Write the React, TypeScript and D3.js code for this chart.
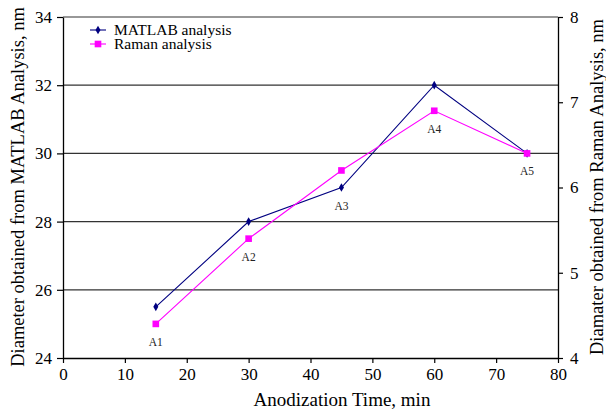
import React, { useRef, useEffect } from "react";
import * as d3 from "d3";

const times = [15, 30, 45, 60, 75];
const matlabValues = [25.5, 28, 29, 32, 30];
const ramanValues = [4.4, 5.4, 6.2, 6.9, 6.4];
const sampleLabels = ["A1", "A2", "A3", "A4", "A5"];
const xTicks = [0, 10, 20, 30, 40, 50, 60, 70, 80];
const leftTicks = [24, 26, 28, 30, 32, 34];
const rightTicks = [4, 5, 6, 7, 8];

const FONT = "\"Times New Roman\", \"Liberation Serif\", \"DejaVu Serif\", serif";

const App = () => {
  const canvas = useRef<SVGSVGElement>(null);

  const margin = { top: 17, right: 48, bottom: 55, left: 63 };
  const width = 606 - margin.left - margin.right;
  const height = 413 - margin.top - margin.bottom;

  useEffect(() => {
    const svg = d3.select(canvas.current);
    svg.selectAll("*").remove();

    const xScale = d3.scaleLinear().domain([0, 80]).range([0, width]);
    const yLeft = d3.scaleLinear().domain([24, 34]).range([height, 0]);
    const yRight = d3.scaleLinear().domain([4, 8]).range([height, 0]);

    const g = svg.append("g").attr("transform", "translate(" + margin.left + "," + margin.top + ")");

    // grid lines
    g.selectAll("line.grid")
      .data(leftTicks.slice(1))
      .enter()
      .append("line")
      .attr("x1", 0)
      .attr("x2", width)
      .attr("y1", d => yLeft(d))
      .attr("y2", d => yLeft(d))
      .style("stroke", "#333")
      .style("stroke-width", 1.2);

    const styleAxis = (sel: any) => {
      sel.attr("font-family", null).attr("font-size", null);
      sel.select(".domain").style("stroke", "#000").style("stroke-width", 1.3);
      sel.selectAll(".tick line").style("stroke", "#000").style("stroke-width", 1.2);
      sel.selectAll("text").style("font-family", FONT).style("font-size", "17px").style("fill", "#000");
    };

    g.append("g")
      .attr("transform", "translate(0," + height + ")")
      .call(d3.axisBottom(xScale).tickValues(xTicks).tickSize(5).tickSizeOuter(0).tickPadding(5))
      .call(styleAxis);

    g.append("g")
      .call(d3.axisLeft(yLeft).tickValues(leftTicks).tickSize(6).tickSizeOuter(0).tickPadding(5))
      .call(styleAxis);

    g.append("g")
      .attr("transform", "translate(" + width + ",0)")
      .call(d3.axisRight(yRight).tickValues(rightTicks).tickFormat(d3.format("d")).tickSize(5).tickSizeOuter(0).tickPadding(7))
      .call(styleAxis);

    const matlabPts: [number, number][] = times.map((t, i) => [xScale(t), yLeft(matlabValues[i])]);
    const ramanPts: [number, number][] = times.map((t, i) => [xScale(t), yRight(ramanValues[i])]);

    const line = d3.line();

    g.append("path")
      .attr("d", line(matlabPts))
      .style("stroke", "#000080")
      .style("stroke-width", 1.1)
      .style("fill", "none");

    g.append("path")
      .attr("d", line(ramanPts))
      .style("stroke", "#ff00ff")
      .style("stroke-width", 1.1)
      .style("fill", "none");

    const diamond = d3.symbol().type(d3.symbolDiamond).size(22);
    const square = d3.symbol().type(d3.symbolSquare).size(44);

    g.selectAll("path.mat")
      .data(matlabPts)
      .enter()
      .append("path")
      .attr("d", diamond())
      .attr("transform", d => "translate(" + d[0] + "," + d[1] + ")")
      .style("fill", "#000080");

    g.selectAll("path.ram")
      .data(ramanPts)
      .enter()
      .append("path")
      .attr("d", square())
      .attr("transform", d => "translate(" + d[0] + "," + d[1] + ")")
      .style("fill", "#ff00ff");

    // sample labels under the lower of the two markers
    g.selectAll("text.lab")
      .data(sampleLabels)
      .enter()
      .append("text")
      .attr("x", (d, i) => xScale(times[i]))
      .attr("y", (d, i) => Math.max(matlabPts[i][1], ramanPts[i][1]) + 22)
      .attr("text-anchor", "middle")
      .style("font-family", FONT)
      .style("font-size", "11.5px")
      .style("fill", "#222")
      .text(d => d);

    // legend
    const legend = [
      { name: "MATLAB analysis", color: "#000080", sym: diamond },
      { name: "Raman analysis", color: "#ff00ff", sym: square },
    ];
    legend.forEach((item, i) => {
      const ly = 13 + i * 14;
      g.append("line")
        .attr("x1", 27).attr("x2", 43)
        .attr("y1", ly).attr("y2", ly)
        .style("stroke", item.color)
        .style("stroke-width", 1.1);
      g.append("path")
        .attr("d", item.sym())
        .attr("transform", "translate(35," + ly + ")")
        .style("fill", item.color);
      g.append("text")
        .attr("x", 51)
        .attr("y", ly + 5)
        .style("font-family", FONT)
        .style("font-size", "15.5px")
        .text(item.name);
    });

    // axis titles
    svg.append("text")
      .attr("x", 342)
      .attr("y", 406)
      .attr("text-anchor", "middle")
      .style("font-family", FONT)
      .style("font-size", "19px")
      .text("Anodization Time, min");

    svg.append("text")
      .attr("transform", "translate(24,187) rotate(-90)")
      .attr("text-anchor", "middle")
      .style("font-family", FONT)
      .style("font-size", "18.5px")
      .text("Diameter obtained from MATLAB Analysis, nm");

    svg.append("text")
      .attr("transform", "translate(603,187) rotate(-90)")
      .attr("text-anchor", "middle")
      .style("font-family", FONT)
      .style("font-size", "18.5px")
      .text("Diamater obtained from Raman Analysis, nm");
  });

  return (
    <svg ref={canvas} width={606} height={413} style={{ position: "absolute", left: 0, top: 0, background: "#fff" }}></svg>
  );
};

export default App;
